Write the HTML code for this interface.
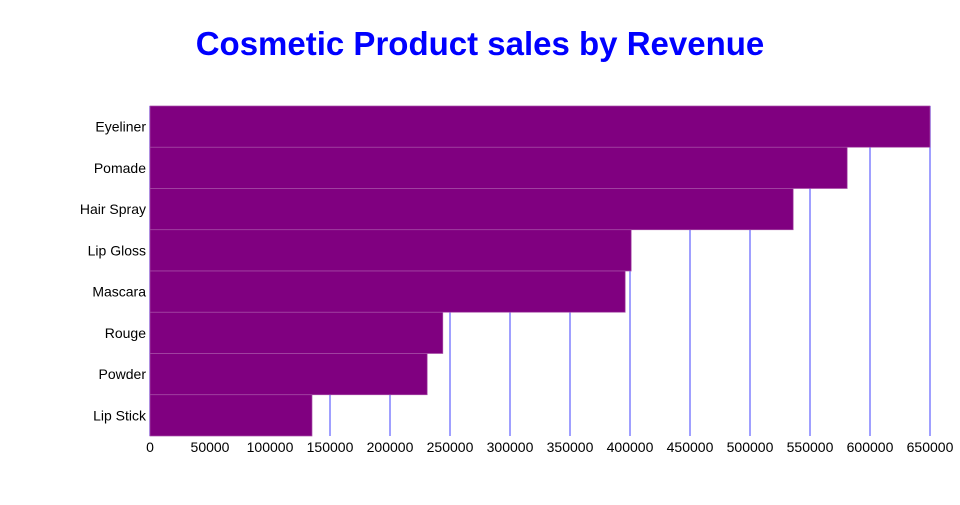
<!DOCTYPE html>
<html><head><meta charset="utf-8"><style>
body{margin:0;background:#fff;font-family:"Liberation Sans",sans-serif}
</style></head><body>
<svg width="960" height="500" xmlns="http://www.w3.org/2000/svg">
<text x="480" y="55" text-anchor="middle" font-size="33" font-weight="bold" fill="#0000ff">Cosmetic Product sales by Revenue</text>
<g id="grid"></g><g id="bars"></g><g id="ylabels"></g><g id="xlabels"></g>
</svg>
<script>
const categories=["Eyeliner","Pomade","Hair Spray","Lip Gloss","Mascara","Rouge","Powder","Lip Stick"];
const revenue=[650000,581000,536000,401000,396000,244000,231000,135000];
const xTicks=[0,50000,100000,150000,200000,250000,300000,350000,400000,450000,500000,550000,600000,650000];
const NS="http://www.w3.org/2000/svg";
const x0=150,x1=930,plotTop=106,plotBot=436,xMax=650000;
const xs=v=>x0+(v/xMax)*(x1-x0);
const bh=(plotBot-plotTop)/categories.length;
const ys=i=>plotTop+i*bh;
function mk(t,a,p){const e=document.createElementNS(NS,t);for(const k in a)e.setAttribute(k,a[k]);p.appendChild(e);return e;}
const g=document.getElementById('grid'),b=document.getElementById('bars'),yl=document.getElementById('ylabels'),xl=document.getElementById('xlabels');
xTicks.forEach(v=>{
 const l=mk('line',{x1:xs(v),x2:xs(v),y1:plotTop,y2:plotBot,stroke:'#8080ff','stroke-width':1.5},g);
 
 
 const t=mk('text',{x:xs(v),y:452,'text-anchor':'middle','font-size':14,fill:'#000'},xl);
 t.textContent=v;
 
 
});
categories.forEach((c,i)=>{
 const r=mk('rect',{x:x0,y:ys(i),width:xs(revenue[i])-x0,height:bh,fill:'#800080',stroke:'#a850a8','stroke-width':0.7},b);
 
 
 const t=mk('text',{x:146,y:ys(i)+bh/2+5,'text-anchor':'end','font-size':14,fill:'#000'},yl);
 t.textContent=c;
 
 
});
</script>
</body></html>
